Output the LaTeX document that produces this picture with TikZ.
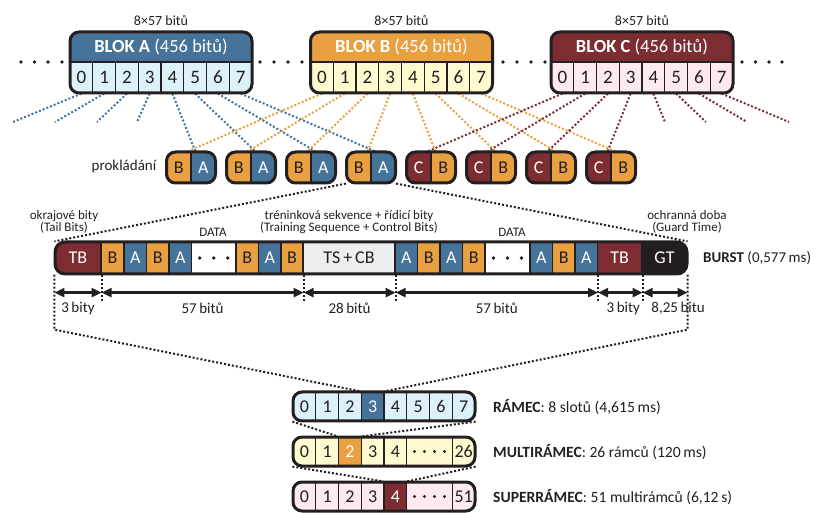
\documentclass[tikz,border=0pt]{standalone}
\usepackage{fontspec}
\setmainfont{Carlito}
\usetikzlibrary{arrows.meta}
\definecolor{ink}{HTML}{231F20}
\definecolor{blueD}{HTML}{45739A}
\definecolor{blueL}{HTML}{DDF1FA}
\definecolor{orgD}{HTML}{E8A040}
\definecolor{yelL}{HTML}{FFF9CF}
\definecolor{redD}{HTML}{7D2C32}
\definecolor{pinkL}{HTML}{FCE9F1}
\definecolor{tsgray}{HTML}{EEEEEE}
\pgfdeclarelayer{bg}
\pgfsetlayers{bg,main}
\newcommand\myfs[1]{\fontsize{#1}{#1}\selectfont}
\tikzset{
  cellbox/.style={draw=ink, line width=1.2pt, minimum width=22.75pt, minimum height=31pt, inner sep=0pt, text=ink, font=\myfs{19}},
  halfbox/.style={draw=ink, line width=1.2pt, minimum width=24.5pt, minimum height=31pt, inner sep=0pt, font=\myfs{18}},
  burstcell/.style={draw=ink, line width=1.2pt, minimum height=32pt, inner sep=0pt, font=\myfs{18}},
  frcell/.style={draw=ink, line width=1.2pt, minimum height=29pt, inner sep=0pt, font=\myfs{18}},
  outline/.style={draw=ink, line width=3pt, rounded corners=9pt},
  dotline/.style={line width=2pt, dash pattern=on 2pt off 2pt},
  dimarrow/.style={line width=2.2pt, draw=ink, {Triangle[length=10pt,width=9pt]}-{Triangle[length=10pt,width=9pt]}},
  lbl/.style={text=ink, inner sep=0pt},
}
\newcommand\gsmblock[4]{%
  \begin{scope}
    \clip[rounded corners=9pt] ({#2-91},32) rectangle ({#2+91},93);
    \node[draw=ink, line width=1.2pt, fill=#3, minimum width=182pt, minimum height=30pt, inner sep=0pt, text=white, font=\myfs{18.5}] (#1h) at (#2,47) {\textbf{BLOK #1} (456 bitů)};
    \foreach \i in {0,...,7}
      \node[cellbox, fill=#4] (#1\i) at ({#2-91+11.375+22.75*\i},77.5) {\i};
  \end{scope}
  \draw[outline] ({#2-91},32) rectangle ({#2+91},93);
  \node[lbl, font=\myfs{14}] (#1t) at (#2,21) {8×57 bitů};
}
\newcommand\gsmpair[6]{%
  \begin{scope}
    \clip[rounded corners=9pt] ({#2-24.5},152) rectangle ({#2+24.5},183);
    \node[halfbox, fill=#3] (#1l) at ({#2-12.25},167.5) {#4};
    \node[halfbox, fill=#5] (#1r) at ({#2+12.25},167.5) {#6};
  \end{scope}
  \draw[outline] ({#2-24.5},152) rectangle ({#2+24.5},183);
}
\begin{document}
\begin{tikzpicture}[x=1pt,y=-1pt]
\useasboundingbox (0,0) rectangle (815,513);

% top blocks
\gsmblock{A}{161}{blueD}{blueL}
\gsmblock{B}{401.5}{orgD}{yelL}
\gsmblock{C}{642}{redD}{pinkL}
\foreach \x in {21,34.5,48,62,260,274,288,302,503,517,531,545,742,755.5,769,782}
  \fill[ink] (\x,62) circle (1.9pt);

% interleaving pairs
\node[lbl, font=\myfs{15}] (prok) at (124,167) {prokládání};
\foreach \n/\cx in {1/191,2/251,3/311,4/371}
  \gsmpair{P\n}{\cx}{orgD}{\color{ink}B}{blueD}{\color{white}A};
\foreach \n/\cx in {5/431,6/491,7/551,8/611}
  \gsmpair{P\n}{\cx}{redD}{\color{white}C}{orgD}{\color{ink}B};

% burst
\begin{scope}
  \clip[rounded corners=10pt] (55,242) rectangle (687,274);
  \foreach \l/\r/\f/\c/\t [count=\k] in {55/101/redD/white/TB, 101/124/orgD/ink/B, 124/146.5/blueD/white/A, 146.5/169/orgD/ink/B, 169/191.5/blueD/white/A, 191.5/236/white/ink/{}, 236/258.5/orgD/ink/B, 258.5/281/blueD/white/A, 281/303/orgD/ink/B, 303/395/tsgray/ink/{TS\,+\,CB}, 395/417.5/blueD/white/A, 417.5/440/orgD/ink/B, 440/462.5/blueD/white/A, 462.5/485/orgD/ink/B, 485/530/white/ink/{}, 530/552.5/blueD/white/A, 552.5/575/orgD/ink/B, 575/597.5/blueD/white/A, 597.5/642/redD/white/TB, 642/687/ink/white/GT}
    \node[burstcell, fill=\f, text=\c, minimum width={\r-\l}] (S\k) at ({(\l+\r)/2},258) {\t};
\end{scope}
\draw[outline, rounded corners=10pt] (55,242) rectangle (687,274);
\foreach \s in {S6,S15}
  \foreach \dd in {-14,0,14}
    \fill[ink] ([xshift=\dd pt]\s.center) circle (1.9pt);

\node[lbl, font=\myfs{13}, align=center] (lTB) at (64,222) {okrajové bity\\[-0.5pt](Tail Bits)};
\node[lbl, font=\myfs{13}] (lD1) at (213,232) {DATA};
\node[lbl, font=\myfs{13}, align=center] (lTS) at (349,222) {tréninková sekvence + řídicí bity\\[-0.5pt](Training Sequence + Control Bits)};
\node[lbl, font=\myfs{13}] (lD2) at (512,232) {DATA};
\node[lbl, font=\myfs{13}, align=center] (lGT) at (687,222) {ochranná doba\\[-0.5pt](Guard Time)};
\node[lbl, anchor=west, font=\myfs{15}] (lB) at (703,258) {\textbf{BURST} (0,577\,ms)};

% boundaries
\coordinate (b0) at (S1.south west);
\coordinate (b1) at (S1.south east);
\coordinate (b2) at (S9.south east);
\coordinate (b3) at (S10.south east);
\coordinate (b4) at (S18.south east);
\coordinate (b5) at (S19.south east);
\coordinate (b6) at (S20.south east);
\coordinate (c0) at ([yshift=-55pt]b0);
\coordinate (c6) at ([yshift=-55pt]b6);

% frames
\begin{scope}
  \clip[rounded corners=9pt] (293,392) rectangle (475,421);
  \foreach \i/\f/\c in {0/blueL/ink,1/blueL/ink,2/blueL/ink,3/blueD/white,4/blueL/ink,5/blueL/ink,6/blueL/ink,7/blueL/ink}
    \node[frcell, minimum width=22.75pt, fill=\f, text=\c] (F\i) at ({293+11.375+22.75*\i},406.5) {\i};
\end{scope}
\draw[outline] (293,392) rectangle (475,421);

\begin{scope}
  \clip[rounded corners=9pt] (293,437) rectangle (475,466);
  \foreach \l/\r/\f/\c/\t [count=\k from 0] in {293/315.75/yelL/ink/0, 315.75/338.5/yelL/ink/1, 338.5/361.25/orgD/white/2, 361.25/384/yelL/ink/3, 384/406.75/yelL/ink/4, 406.75/452.25/yelL/ink/{}, 452.25/475/yelL/ink/26}
    \node[frcell, fill=\f, text=\c, minimum width={\r-\l}] (M\k) at ({(\l+\r)/2},451.5) {\t};
\end{scope}
\draw[outline] (293,437) rectangle (475,466);

\begin{scope}
  \clip[rounded corners=9pt] (293,482) rectangle (475,511);
  \foreach \l/\r/\f/\c/\t [count=\k from 0] in {293/315.75/pinkL/ink/0, 315.75/338.5/pinkL/ink/1, 338.5/361.25/pinkL/ink/2, 361.25/384/pinkL/ink/3, 384/406.75/redD/white/4, 406.75/452.25/pinkL/ink/{}, 452.25/475/pinkL/ink/51}
    \node[frcell, fill=\f, text=\c, minimum width={\r-\l}] (U\k) at ({(\l+\r)/2},496.5) {\t};
\end{scope}
\draw[outline] (293,482) rectangle (475,511);
\foreach \s in {M5,U5}
  \foreach \dd in {-15,-5,5,15}
    \fill[ink] ([xshift=\dd pt]\s.center) circle (1.7pt);

\node[lbl, anchor=west, font=\myfs{15.6}] (lF) at (493,407) {\textbf{RÁMEC}: 8 slotů (4,615\,ms)};
\node[lbl, anchor=west, font=\myfs{15.6}] (lM) at (493,452) {\textbf{MULTIRÁMEC}: 26 rámců (120\,ms)};
\node[lbl, anchor=west, font=\myfs{15.6}] (lU) at (493,497) {\textbf{SUPERRÁMEC}: 51 multirámců (6,12\,s)};

% free ends
\coordinate (xa0) at (13,122);
\coordinate (xa1) at (55,122);
\coordinate (xa2) at (97,122);
\coordinate (xa3) at (137,122);
\coordinate (xc4) at (665,122);
\coordinate (xc5) at (706,122);
\coordinate (xc6) at (747,122);
\coordinate (xc7) at (789,122);

% dimension arrows
\foreach \p/\q/\t/\sh in {b0/b1/{3\,bity}/0, b1/b2/{57\,bitů}/0, b2/b3/{28\,bitů}/0, b3/b4/{57\,bitů}/0, b4/b5/{3\,bity}/3, b5/b6/{8,25\,bitu}/13}
  \draw[dimarrow] ([yshift=-18pt]\p) -- ([yshift=-18pt]\q)
    node[lbl, midway, yshift=-16pt, xshift=\sh pt, font=\myfs{15}] {\t};

\begin{pgfonlayer}{bg}
  \foreach \i in {0,...,3} \draw[dotline, blueD] (A\i.south) -- (xa\i);
  \foreach \i in {4,...,7} \draw[dotline, redD] (C\i.south) -- (xc\i);
  \foreach \a/\p in {4/P1,5/P2,6/P3,7/P4}
    \draw[dotline, blueD] (A\a.south) -- ([xshift=5pt]\p r.north west);
  \foreach \a/\p in {0/P1,1/P2,2/P3,3/P4}
    \draw[dotline, orgD] (B\a.south) -- ([xshift=-4pt]\p l.north east);
  \foreach \a/\p in {4/P5,5/P6,6/P7,7/P8}
    \draw[dotline, orgD] (B\a.south) -- ([xshift=5pt]\p r.north west);
  \foreach \a/\p in {0/P5,1/P6,2/P7,3/P8}
    \draw[dotline, redD] (C\a.south) -- ([xshift=-4pt]\p l.north east);
  \draw[dotline, ink] (P4l.south west) -- (S1.north west);
  \draw[dotline, ink] (P4r.south east) -- (S20.north east);
  \foreach \b in {b1,b2,b3,b4,b5}
    \draw[dotline, ink] (\b) -- ([yshift=-26pt]\b);
  \draw[dotline, ink] (b0) -- (c0) -- (F3.north west);
  \draw[dotline, ink] (b6) -- (c6) -- (F3.north east);
  \draw[dotline, ink] (F0.south west) -- (M2.north west);
  \draw[dotline, ink] (F7.south east) -- (M2.north east);
  \draw[dotline, ink] (M0.south west) -- (U4.north west);
  \draw[dotline, ink] (M6.south east) -- (U4.north east);
\end{pgfonlayer}
\end{tikzpicture}
\end{document}
